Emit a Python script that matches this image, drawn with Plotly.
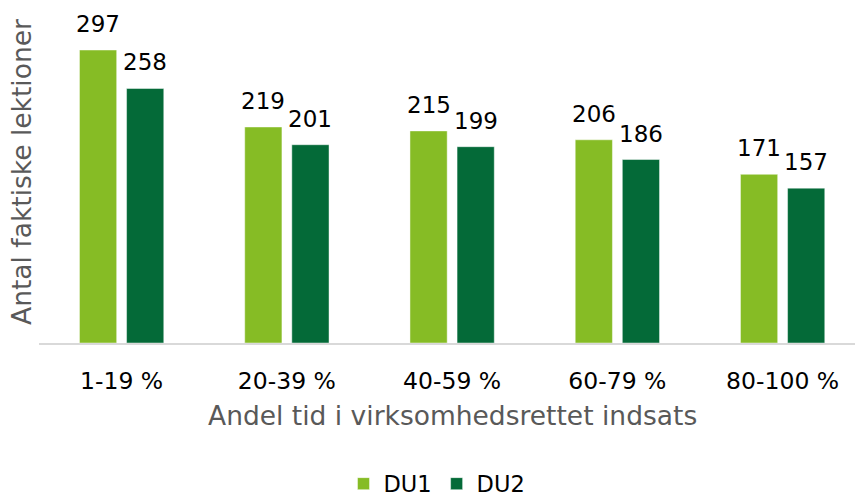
import plotly.graph_objects as go

categories = ["1-19 %", "20-39 %", "40-59 %", "60-79 %", "80-100 %"]
du1 = [297, 219, 215, 206, 171]
du2 = [258, 201, 199, 186, 157]
series_names = ["DU1", "DU2"]
colors = ["#86bc25", "#046a38"]

FONT = "DejaVu Sans, Verdana, sans-serif"

fig = go.Figure()
for name, vals, col in zip(series_names, [du1, du2], colors):
    fig.add_trace(go.Bar(x=categories, y=vals, name=name, marker_color=col,
                         marker_line=dict(width=1, color="rgba(255,255,255,0.45)")))

annotations = []
for vals, shift in [(du1, -23.5), (du2, 23.5)]:
    for c, v in zip(categories, vals):
        annotations.append(dict(x=c, y=v, xref="x", yref="y", text=str(v),
                                showarrow=False, xshift=shift, yanchor="bottom",
                                yshift=11, font=dict(size=23, color="#000000", family=FONT)))

annotations.append(dict(x=22, y=172, xref="paper", yref="paper", text="Antal faktiske lektioner",
                        showarrow=False, textangle=-90, xanchor="center", yanchor="middle",
                        font=dict(size=26.5, color="#595959", family=FONT)))
annotations.append(dict(x=452, y=415, xref="paper", yref="paper",
                        text="Andel tid i virksomhedsrettet indsats",
                        showarrow=False, xanchor="center", yanchor="middle",
                        font=dict(size=26.5, color="#595959", family=FONT)))

# convert pixel-positioned title annotations to paper coords
W, H = 855, 497
L, R, T, B = 39, 0, 8, 154
pw, ph = W - L - R, H - T - B
for a in annotations[-2:]:
    px, py = a["x"], a["y"]
    a["x"] = (px - L) / pw
    a["y"] = (H - B - py) / ph

fig.update_layout(
    width=W, height=H,
    margin=dict(l=L, r=R, t=T, b=B, autoexpand=False),
    paper_bgcolor="white", plot_bgcolor="white",
    bargap=0.43, bargroupgap=0.21,
    font=dict(family=FONT, color="#000000"),
    showlegend=True,
    annotations=annotations,
    legend=dict(orientation="h", x=(437 - L) / pw, xanchor="center",
                y=-(484 - (H - B)) / ph, yanchor="middle",
                font=dict(size=22.5, color="#000000", family=FONT), itemwidth=30,
                traceorder="normal"),
    xaxis=dict(showline=True, linecolor="#d9d9d9", linewidth=2, showgrid=False,
               ticks="", ticklabelstandoff=16, range=[-0.5, 4.438], automargin=False,
               tickfont=dict(size=23.5, color="#000000", family=FONT)),
    yaxis=dict(range=[0, 339.6], showgrid=False, showticklabels=False, zeroline=False,
               automargin=False),
)

fig.write_html("out.html", config={"displayModeBar": False},
               post_script="document.body.style.margin='0';document.body.style.overflow='hidden';")
